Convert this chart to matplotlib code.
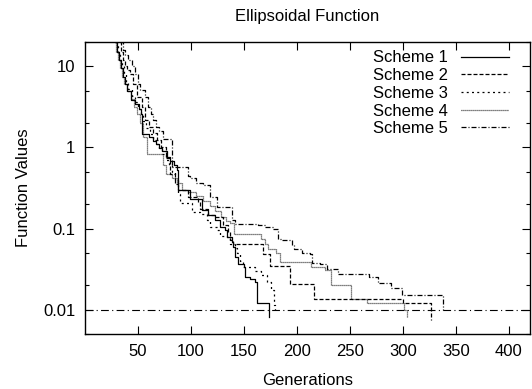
import matplotlib
matplotlib.use("Agg")
import matplotlib.pyplot as plt
from matplotlib.ticker import LogLocator, NullFormatter, FixedLocator, FixedFormatter

plt.rcParams['font.family'] = ['Liberation Sans', 'DejaVu Sans']
plt.rcParams['font.size'] = 12

# generations at which the best value changes, and the new best value
gen1 = [26, 28, 30, 32, 34, 36, 38, 40, 43, 47, 51, 53, 54, 60, 64, 67, 70, 73, 77, 80,
        84, 86.5, 88, 99, 110, 116.5, 122.8, 127.5, 132, 134, 138.5, 140, 141.6, 144.8,
        150, 151, 156, 160.5, 162, 173.5]
val1 = [25, 20, 15, 12, 9.5, 7.5, 6.1, 5.0, 3.8, 3.4, 3.0, 2.6, 1.48, 1.35, 1.2, 1.1, 0.98,
        0.9, 0.76, 0.68, 0.6, 0.52, 0.30, 0.234, 0.167, 0.146, 0.126, 0.104, 0.095, 0.0786,
        0.068, 0.059, 0.0446, 0.037, 0.0335, 0.0252, 0.024, 0.0219, 0.0119, 0.0081]

gen2 = [29, 31, 34, 36, 38, 40, 42.6, 45.7, 48.9, 53.7, 56.8, 60, 64, 68, 72, 76, 80.3, 85.1,
        88.2, 97.6, 107, 108.6, 116.5, 122.8, 130.6, 135.3, 136.9, 140, 168.3, 174.5, 193.5,
        216, 300, 326.4]
val2 = [25, 20, 15, 11.9, 10, 9, 8.1, 6.1, 4.2, 3.15, 2.16, 1.8, 1.5, 1.25, 1.0, 0.75, 0.475,
        0.358, 0.296, 0.244, 0.212, 0.176, 0.146, 0.14, 0.11, 0.09, 0.0716, 0.065, 0.049,
        0.0345, 0.0205, 0.0134, 0.0122, 0.0074]

gen3 = [27, 29, 31, 33, 35, 37, 39, 41, 44, 47, 50, 53, 55, 58, 61, 64, 67, 70, 73, 76, 79,
        82, 85, 88.2, 89.8, 100.8, 108.6, 115, 118, 124.4, 127.5, 133.8, 136.9, 141.6, 143.2,
        146, 149, 160, 166, 172, 176, 178, 179]
val3 = [25, 20, 15, 12, 10, 8, 6.5, 5.3, 4.3, 3.6, 3.0, 2.5, 2.1, 1.75, 1.45, 1.25, 1.1, 0.95,
        0.82, 0.7, 0.6, 0.5, 0.4, 0.27, 0.205, 0.16, 0.152, 0.126, 0.104, 0.095, 0.082, 0.0786,
        0.065, 0.058, 0.05, 0.04, 0.0335, 0.03, 0.0265, 0.022, 0.0173, 0.0113, 0.0098]

gen4 = [25, 27, 29, 31, 33, 35, 37, 40, 43, 46, 49, 52, 55, 58.4, 73.6, 76.8, 82, 87, 92, 97,
        105, 111, 118, 123, 128, 133, 137, 140.8, 166.4, 170, 173, 180, 184, 213, 226.5, 232,
        251.5, 265.7, 300.8, 304]
val4 = [25, 20, 15, 12, 9.5, 7.5, 6, 5, 4, 3.2, 2.6, 2.0, 1.34, 0.84, 0.6, 0.475, 0.42, 0.36,
        0.3, 0.28, 0.25, 0.22, 0.19, 0.165, 0.14, 0.125, 0.118, 0.0865, 0.075, 0.065, 0.0565,
        0.05, 0.0387, 0.0335, 0.031, 0.02, 0.0137, 0.0119, 0.0098, 0.0081]

gen5 = [31, 33, 36, 38, 41, 44, 47.3, 50, 52, 56.8, 59.9, 62, 64.6, 67, 70, 74, 81.7, 97, 99.2,
        105, 111.7, 118, 124.4, 138.5, 141.6, 163, 170, 177, 182, 186, 195, 197, 205, 212, 214,
        222, 228, 239, 268, 276.8, 289, 298.8, 337.5]
val5 = [25, 20, 16, 14, 11.9, 10, 8.1, 6, 5.06, 4.2, 3.15, 2.6, 2.16, 1.8, 1.6, 1.28, 0.57,
        0.45, 0.42, 0.36, 0.34, 0.244, 0.184, 0.126, 0.115, 0.11, 0.105, 0.1, 0.075, 0.072,
        0.062, 0.0565, 0.05, 0.0488, 0.038, 0.037, 0.032, 0.0275, 0.0252, 0.021, 0.0187,
        0.015, 0.0099]

labels = ['Scheme 1', 'Scheme 2', 'Scheme 3', 'Scheme 4', 'Scheme 5']
target = 0.01
xticks = [50, 100, 150, 200, 250, 300, 350, 400]
yticks = [0.01, 0.1, 1, 10]
ytick_labels = ['0.01', '0.1', '1', '10']

fig = plt.figure(figsize=(5.32, 3.89), dpi=100)
ax = fig.add_axes([85 / 532, 1 - 334 / 389, 445 / 532, 292 / 389])

styles = ['-', (0, (3.2, 1.6)), (0, (1.6, 2.6)), (0, (0.7, 0.9)), (0, (4, 1.6, 0.8, 1.6))]
series = [(gen1, val1), (gen2, val2), (gen3, val3), (gen4, val4), (gen5, val5)]
for (g, v), lab, ls in zip(series, labels, styles):
    ax.plot(g, v, drawstyle='steps-post', color='black', lw=0.9, ls=ls, label=lab)

ax.axhline(target, color='black', lw=0.8, ls=(0, (7, 3, 1, 3)))

ax.set_yscale('log')
ax.set_xlim(0, 420)
ax.set_ylim(0.005, 20)
ax.xaxis.set_major_locator(FixedLocator(xticks))
ax.yaxis.set_major_locator(FixedLocator(yticks))
ax.yaxis.set_major_formatter(FixedFormatter(ytick_labels))
ax.yaxis.set_minor_locator(LogLocator(base=10, subs=(2, 5)))
ax.yaxis.set_minor_formatter(NullFormatter())
ax.tick_params(which='both', direction='in', top=True, right=True, labelsize=12)
ax.tick_params(which='major', length=6, width=0.8, pad=7)
ax.tick_params(which='minor', length=3, width=0.8)
for s in ax.spines.values():
    s.set_linewidth(1.0)

ax.set_title('Ellipsoidal Function', fontsize=12, pad=15)
ax.set_xlabel('Generations', fontsize=12, labelpad=10)
ax.set_ylabel('Function Values', fontsize=12, labelpad=9)

ax.legend(loc='upper right', bbox_to_anchor=(509 / 532, 1 - 50.5 / 389),
          bbox_transform=fig.transFigure, frameon=False, markerfirst=False,
          borderpad=0, borderaxespad=0, handlelength=2.9, handletextpad=0.75,
          labelspacing=0.16, fontsize=12)

fig.savefig('out.png', dpi=100)
